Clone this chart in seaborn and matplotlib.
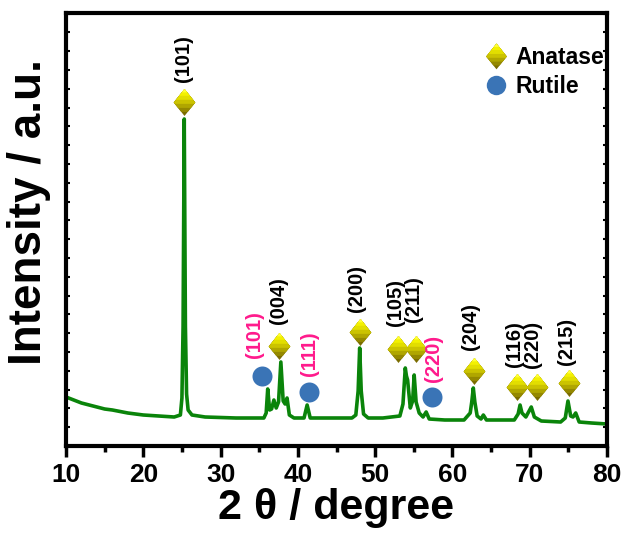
import numpy as np
import matplotlib
matplotlib.use("Agg")
import matplotlib.pyplot as plt
from matplotlib.path import Path
from matplotlib.markers import MarkerStyle
from matplotlib.lines import Line2D
from matplotlib.legend_handler import HandlerTuple
import seaborn as sns

# ---------------- data ----------------
two_theta = [10.0, 11.0, 12.0, 13.0, 14.0, 15.0, 16.0, 18.0, 20.0, 22.0, 24.0, 24.8,
             25.0, 25.15, 25.3, 25.45, 25.6, 25.8, 26.3, 28.0, 32.0, 35.6, 35.9,
             36.1, 36.35, 36.6, 36.9, 37.2, 37.5, 37.8, 38.1, 38.35, 38.6, 38.9,
             39.5, 40.8, 41.2, 41.6, 44.0, 47.0, 47.5, 47.8, 48.0, 48.2, 48.5,
             49.1, 51.0, 53.2, 53.6, 53.9, 54.05, 54.2, 54.55, 54.85, 55.05,
             55.3, 55.7, 56.2, 56.6, 57.0, 59.0, 61.5, 62.3, 62.5, 62.7, 62.9,
             63.2, 63.7, 64.0, 64.4, 66.0, 68.0, 68.5, 68.75, 69.0, 69.5, 70.2,
             70.6, 71.5, 74.0, 74.6, 74.95, 75.3, 75.6, 75.95, 76.4, 78.0, 80.0]
intensity = [49, 46, 43, 41, 39, 37, 36, 33, 31, 30, 29, 31,
             48, 120, 327, 120, 52, 36, 31, 29, 28, 28, 33,
             57, 36, 37, 46, 38, 44, 84, 45, 42, 48, 31,
             28, 28, 41, 28, 28, 28, 31, 55, 98, 55, 32,
             28, 28, 30, 42, 78, 70, 66, 38, 45, 71,
             44, 33, 29, 34, 27, 26, 26, 33, 44, 58, 44,
             30, 27, 31, 26, 26, 26, 32, 41, 33, 29, 39,
             29, 25, 24, 28, 45, 30, 29, 33, 24, 23, 22]

# phase markers
anatase_x = [25.3, 37.6, 48.1, 53.0, 55.35, 62.8, 68.4, 70.95, 75.1]
anatase_y = [344, 100, 114, 97, 97, 75, 59, 59, 63]
rutile_x = [35.4, 41.4, 57.3]
rutile_y = [70, 54, 49]

# hkl labels
anatase_hkl = ["(101)", "(004)", "(200)", "(105)", "(211)", "(204)", "(116)", "(220)", "(215)"]
anatase_lx = [25.15, 37.45, 47.6, 52.65, 55.0, 62.4, 68.0, 70.4, 74.7]
anatase_ly = [387, 145, 158, 143, 147, 119, 102, 102, 105]
rutile_hkl = ["(101)", "(111)", "(220)"]
rutile_lx = [34.45, 41.55, 57.5]
rutile_ly = [111, 92, 88]

xticks = [10, 20, 30, 40, 50, 60, 70, 80]
legend_labels = ["Anatase", "Rutile"]

# ---------------- styling ----------------
sns.set_style("ticks")
plt.rcParams["font.family"] = ["Liberation Sans", "DejaVu Sans"]
plt.rcParams["font.weight"] = "bold"
plt.rcParams["text.color"] = "black"
plt.rcParams["axes.labelcolor"] = "black"
plt.rcParams["xtick.color"] = "black"
plt.rcParams["ytick.color"] = "black"
plt.rcParams["axes.edgecolor"] = "black"

line_color = "#0a840a"
rutile_color = "#3a74b6"
pink = "#ff1a8c"

fig = plt.figure(figsize=(6.28, 5.37), dpi=100)
ax = fig.add_axes([66 / 628, 1 - 446 / 537, (607 - 66) / 628, (446 - 13) / 537])

sns.lineplot(x=two_theta, y=intensity, ax=ax, color=line_color, lw=2.6, sort=False,
             estimator=None)


def upper_region(t):
    """Diamond region above level t (diamond half-width 0.8, height 1)."""
    w = 0.8 * (1 - abs(t))
    if t <= 0:
        verts = [(0, 1), (0.8, 0), (w, t), (-w, t), (-0.8, 0), (0, 1)]
    else:
        verts = [(0, 1), (w, t), (-w, t), (0, 1)]
    return MarkerStyle(Path(verts, closed=True))


grad_levels = [-1.0, -0.7, -0.4, -0.1, 0.2, 0.5, 0.75]
grad_colors = ["#7a6c00", "#948800", "#b0a600", "#cbc300", "#e2de00", "#f3f100", "#ffff3a"]

dia_ms = 19.4
for t, c in zip(grad_levels, grad_colors):
    sns.scatterplot(x=anatase_x, y=anatase_y, ax=ax, marker=upper_region(t),
                    s=dia_ms ** 2, color=c, linewidth=0, zorder=3)
sns.scatterplot(x=rutile_x, y=rutile_y, ax=ax, marker="o", s=14.4 ** 2,
                color=rutile_color, linewidth=0, zorder=3)

for lab, x, y in zip(anatase_hkl, anatase_lx, anatase_ly):
    ax.text(x, y, lab, rotation=90, ha="center", va="center", fontsize=14.5,
            fontweight="bold", color="black")
for lab, x, y in zip(rutile_hkl, rutile_lx, rutile_ly):
    ax.text(x, y, lab, rotation=90, ha="center", va="center", fontsize=14.5,
            fontweight="bold", color=pink)

# legend
dia_handles = tuple(Line2D([], [], ls="none", marker=upper_region(t), markersize=18.5,
                           color=c, markeredgewidth=0)
                    for t, c in zip(grad_levels, grad_colors))
circ_handle = Line2D([], [], ls="none", marker="o", markersize=14, color=rutile_color,
                     markeredgewidth=0)
leg = ax.legend([dia_handles, circ_handle], legend_labels,
                handler_map={tuple: HandlerTuple(ndivide=1, pad=0)},
                loc="upper left", bbox_to_anchor=((483 - 66) / 541, (446 - 46) / 433),
                frameon=False, handlelength=1.1, handletextpad=0.3,
                labelspacing=0.28, borderpad=0, borderaxespad=0,
                prop={"weight": "bold", "size": 16.5})
for txt in leg.get_texts():
    txt.set_color("black")

ax.set_xlim(10, 80)
ax.set_ylim(0, 433)
ax.set_xticks(xticks)
ax.set_xticks(np.arange(15, 80, 10), minor=True)
ax.set_yticks(np.arange(0, 433, 18.8))
ax.set_yticklabels([])
ax.tick_params(axis="x", which="major", direction="out", length=8, width=2.5,
               labelsize=19, pad=4, top=False, colors="black")
ax.tick_params(axis="x", which="minor", direction="out", length=4, width=2.5, top=False,
               colors="black")
ax.tick_params(axis="y", which="major", direction="in", length=3, width=1.5,
               left=True, right=True, colors="black")
for lab in ax.get_xticklabels():
    lab.set_fontweight("bold")
for sp in ax.spines.values():
    sp.set_linewidth(3)
    sp.set_color("black")
    sp.set_visible(True)

ax.set_xlabel("2 θ / degree", fontsize=31, fontweight="bold", labelpad=1, color="black")
ax.set_ylabel("Intensity / a.u.", fontsize=33, fontweight="bold", labelpad=7,
              color="black", y=0.54)

fig.savefig("out.png", dpi=100)
